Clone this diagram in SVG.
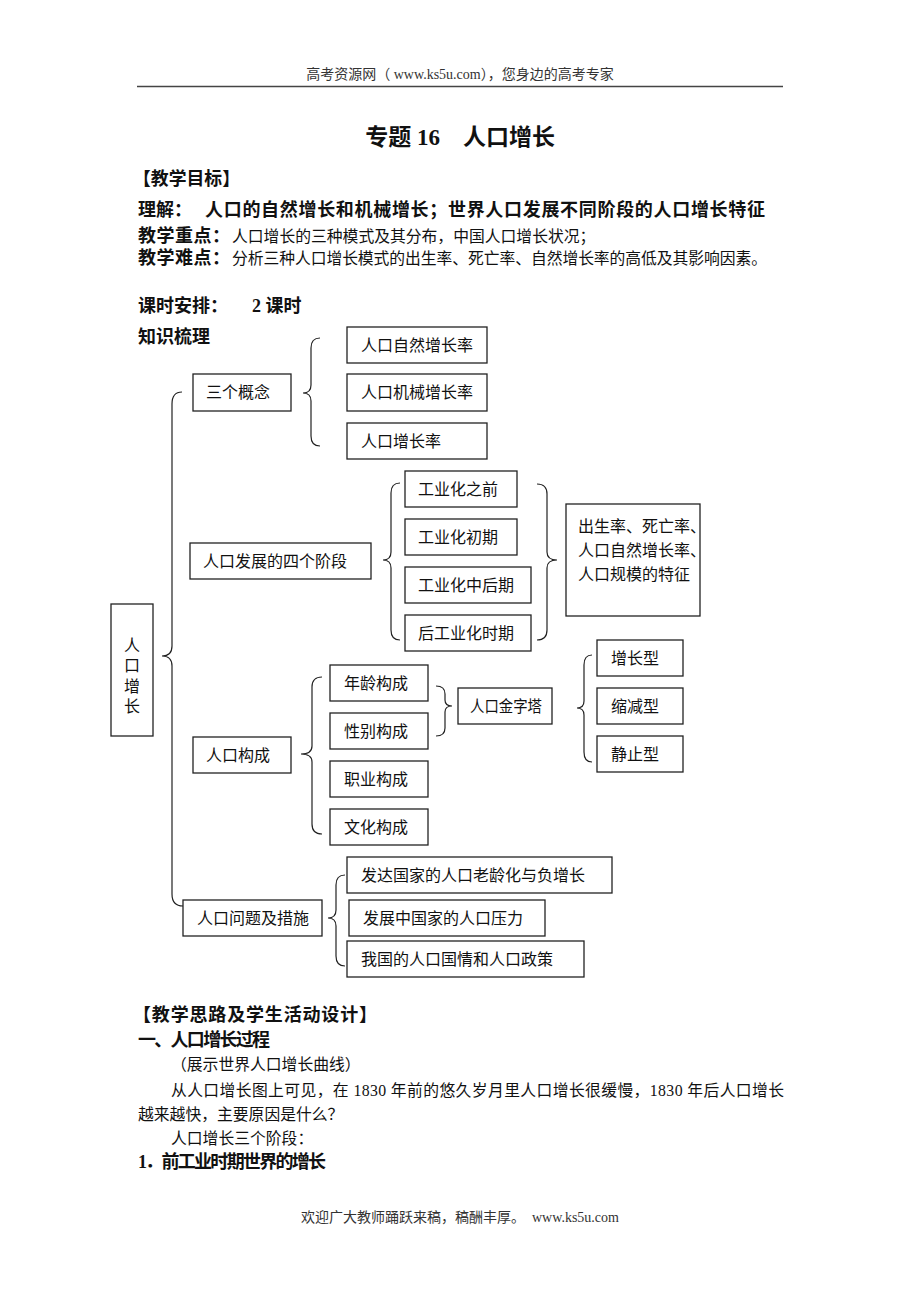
<svg xmlns="http://www.w3.org/2000/svg" width="920" height="1302" viewBox="0 0 920 1302">
<style>
text{font-family:"Liberation Serif","Noto Sans CJK SC",serif;fill:#111;}
.b{font-weight:bold;}
.t{font-size:16px;}
.r{font-size:15.8px;}
.h{font-size:18px;font-weight:bold;}
.box{fill:#fff;stroke:#222;stroke-width:1.3;}
.br{fill:none;stroke:#222;stroke-width:1.2;}
.c{text-anchor:middle;}
</style>
<rect width="920" height="1302" fill="#fff"/>
<g id="header">
<text x="460" y="79" class="c" style="font-size:14px;fill:#333">高考资源网（ www.ks5u.com），您身边的高考专家</text>
<line x1="137" y1="86.5" x2="783" y2="86.5" stroke="#444" stroke-width="1.6"/>
</g>
<g id="intro">
<text x="460" y="145" class="c b" style="font-size:23px">专题 16　人口增长</text>
<text x="133" y="185" class="h" textLength="107" lengthAdjust="spacingAndGlyphs">【教学目标】</text>
<text x="138" y="216" class="h">理解：<tspan x="205" textLength="560">人口的自然增长和机械增长；世界人口发展不同阶段的人口增长特征</tspan></text>
<text x="138" y="242" class="h" textLength="92">教学重点：</text>
<text x="232" y="242" class="r">人口增长的三种模式及其分布，中国人口增长状况；</text>
<text x="138" y="264" class="h" textLength="92">教学难点：</text>
<text x="232" y="264" class="r" textLength="535">分析三种人口增长模式的出生率、死亡率、自然增长率的高低及其影响因素。</text>
<text x="138" y="312" class="h">课时安排：<tspan x="252">2 课时</tspan></text>
<text x="138" y="343" class="h">知识梳理</text>
</g>
<g id="connectors">
<path class="br" d="M182,392 Q172,392 172,404 L172,646 Q172,656 162,656 Q172,656 172,666 L172,894 Q172,906 183,906"/>
<path class="br" d="M320,338 Q311,338 311,348 L311,385 Q311,393 303,393 Q311,393 311,401 L311,436 Q311,446 320,446"/>
<path class="br" d="M400,483 Q391,483 391,493 L391,552 Q391,560 383,560 Q391,560 391,568 L391,630 Q391,640 400,640"/>
<path class="br" d="M537,484 Q547,484 547,494 L547,552 Q547,560 557,560 Q547,560 547,568 L547,630 Q547,640 537,640"/>
<path class="br" d="M322,677 Q312,677 312,687 L312,746 Q312,754 301,754 Q312,754 312,762 L312,824 Q312,834 322,834"/>
<path class="br" d="M436,686 Q445,686 445,694 L445,700 Q445,706 452,706 Q445,706 445,712 L445,728 Q445,736 436,736"/>
<path class="br" d="M592,655 Q584,655 584,665 L584,701 Q584,708 577,708 Q584,708 584,715 L584,752 Q584,762 592,762"/>
<path class="br" d="M345,875 Q336,875 336,885 L336,910 Q336,918 328,918 Q336,918 336,926 L336,956 Q336,966 345,966"/>
</g>
<g id="n-root"><rect class="box" x="111" y="604" width="42" height="132"/>
<text x="132" y="651" class="t c">人</text><text x="132" y="671" class="t c">口</text><text x="132" y="692" class="t c">增</text><text x="132" y="712" class="t c">长</text></g>
<g id="n-concepts"><rect class="box" x="193" y="374" width="98" height="37"/><text x="206" y="398" class="t">三个概念</text></g>
<g id="n-c1"><rect class="box" x="347" y="327" width="140" height="36"/><text x="361" y="351" class="t">人口自然增长率</text></g>
<g id="n-c2"><rect class="box" x="347" y="374" width="140" height="37"/><text x="361" y="398" class="t">人口机械增长率</text></g>
<g id="n-c3"><rect class="box" x="347" y="423" width="140" height="36"/><text x="361" y="447" class="t">人口增长率</text></g>
<g id="n-stages"><rect class="box" x="190" y="543" width="181" height="36"/><text x="203" y="567" class="t">人口发展的四个阶段</text></g>
<g id="n-s1"><rect class="box" x="405" y="471" width="112" height="36"/><text x="418" y="495" class="t">工业化之前</text></g>
<g id="n-s2"><rect class="box" x="405" y="519" width="112" height="36"/><text x="418" y="543" class="t">工业化初期</text></g>
<g id="n-s3"><rect class="box" x="405" y="567" width="126" height="36"/><text x="418" y="591" class="t">工业化中后期</text></g>
<g id="n-s4"><rect class="box" x="405" y="615" width="126" height="36"/><text x="418" y="639" class="t">后工业化时期</text></g>
<g id="n-features"><rect class="box" x="566" y="504" width="134" height="112"/>
<text x="578" y="532" class="t">出生率、死亡率、</text><text x="578" y="556" class="t">人口自然增长率、</text><text x="578" y="580" class="t">人口规模的特征</text></g>
<g id="n-comp"><rect class="box" x="193" y="737" width="98" height="36"/><text x="206" y="761" class="t">人口构成</text></g>
<g id="n-p1"><rect class="box" x="330" y="665" width="98" height="36"/><text x="344" y="689" class="t">年龄构成</text></g>
<g id="n-p2"><rect class="box" x="330" y="713" width="98" height="36"/><text x="344" y="737" class="t">性别构成</text></g>
<g id="n-p3"><rect class="box" x="330" y="761" width="98" height="36"/><text x="344" y="785" class="t">职业构成</text></g>
<g id="n-p4"><rect class="box" x="330" y="809" width="98" height="36"/><text x="344" y="833" class="t">文化构成</text></g>
<g id="n-pyramid"><rect class="box" x="458" y="688" width="94" height="36"/><text x="470" y="712" class="t" textLength="72" lengthAdjust="spacingAndGlyphs">人口金字塔</text></g>
<g id="n-t1"><rect class="box" x="597" y="640" width="86" height="36"/><text x="611" y="664" class="t">增长型</text></g>
<g id="n-t2"><rect class="box" x="597" y="688" width="86" height="36"/><text x="611" y="712" class="t">缩减型</text></g>
<g id="n-t3"><rect class="box" x="597" y="736" width="86" height="36"/><text x="611" y="760" class="t">静止型</text></g>
<g id="n-issues"><rect class="box" x="183" y="900" width="139" height="36"/><text x="197" y="924" class="t">人口问题及措施</text></g>
<g id="n-i1"><rect class="box" x="347" y="857" width="265" height="36"/><text x="361" y="881" class="t">发达国家的人口老龄化与负增长</text></g>
<g id="n-i2"><rect class="box" x="349" y="900" width="196" height="36"/><text x="363" y="924" class="t">发展中国家的人口压力</text></g>
<g id="n-i3"><rect class="box" x="347" y="941" width="237" height="36"/><text x="361" y="965" class="t">我国的人口国情和人口政策</text></g>
<g id="body">
<text x="133" y="1021" class="h" textLength="244">【教学思路及学生活动设计】</text>
<text x="138" y="1046" class="h" textLength="132">一、人口增长过程</text>
<text x="171" y="1070" class="r">（展示世界人口增长曲线）</text>
<text x="171" y="1096" class="r" textLength="613">从人口增长图上可见，在 1830 年前的悠久岁月里人口增长很缓慢，1830 年后人口增长</text>
<text x="138" y="1120" class="r">越来越快，主要原因是什么？</text>
<text x="171" y="1144" class="r">人口增长三个阶段：</text>
<text x="138" y="1168" class="h" textLength="188">1．前工业时期世界的增长</text>
</g>
<g id="footer">
<text x="460" y="1222" class="c" style="font-size:14px;fill:#333">欢迎广大教师踊跃来稿，稿酬丰厚。　www.ks5u.com</text>
</g>
</svg>
